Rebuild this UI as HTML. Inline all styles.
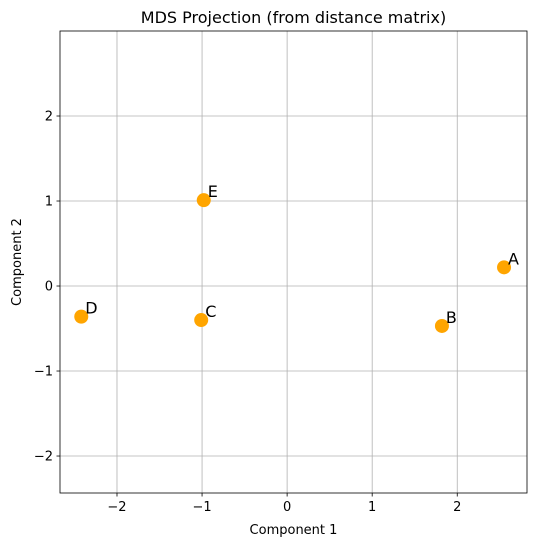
<!DOCTYPE html>
<html><head><meta charset="utf-8"><style>
body{margin:0;background:#fff;font-family:"Liberation Sans","DejaVu Sans",sans-serif}
svg text{font-family:"DejaVu Sans","Liberation Sans",sans-serif}
</style></head><body>
<svg id="chart" width="534" height="547" xmlns="http://www.w3.org/2000/svg"></svg>
<script>
const labels=["A","B","C","D","E"];
const xValues=[2.55,1.82,-1.01,-2.42,-0.98];
const yValues=[0.22,-0.47,-0.40,-0.36,1.01];
const xTicks=[-2,-1,0,1,2];
const yTicks=[-2,-1,0,1,2];
const L=60,R=527,T=31,B=493;
const xMin=-2.67,xMax=2.82,yMin=-2.435,yMax=3.0;
const sx=v=>L+(v-xMin)/(xMax-xMin)*(R-L);
const sy=v=>B-(v-yMin)/(yMax-yMin)*(B-T);
const svg=document.getElementById('chart');
const NS="http://www.w3.org/2000/svg";
function mk(t,a,txt){const e=document.createElementNS(NS,t);for(const k in a)e.setAttribute(k,a[k]);if(txt!=null)e.textContent=txt;svg.appendChild(e);return e;}
xTicks.forEach(v=>{const x=sx(v);
const g=mk('line',{x1:x,x2:x,y1:T,y2:B,stroke:'#b0b0b0','stroke-width':0.8});


const tk=mk('line',{x1:x,x2:x,y1:B,y2:B+3.5,stroke:'#000','stroke-width':0.8});


const t=mk('text',{x:x,y:B+18,'text-anchor':'middle','font-size':13},v<0?'\u2212'+(-v):String(v));

});
yTicks.forEach(v=>{const y=sy(v);
const g=mk('line',{x1:L,x2:R,y1:y,y2:y,stroke:'#b0b0b0','stroke-width':0.8});


const tk=mk('line',{x1:L-3.5,x2:L,y1:y,y2:y,stroke:'#000','stroke-width':0.8});


const t=mk('text',{x:L-7,y:y+4.5,'text-anchor':'end','font-size':13},v<0?'\u2212'+(-v):String(v));

});
const fr=mk('rect',{x:L,y:T,width:R-L,height:B-T,fill:'none',stroke:'#000','stroke-width':0.8});


labels.forEach((lb,i)=>{const x=sx(xValues[i]),y=sy(yValues[i]);
const c=mk('circle',{cx:x,cy:y,r:7,fill:'#ffa500'});


const t=mk('text',{x:x+4,y:y-3,'font-size':16},lb);

});
const ti=mk('text',{x:(L+R)/2,y:23,'text-anchor':'middle','font-size':16},'MDS Projection (from distance matrix)');


const xl=mk('text',{x:(L+R)/2,y:534,'text-anchor':'middle','font-size':13},'Component 1');


const yl=mk('text',{x:21,y:(T+B)/2,'text-anchor':'middle','font-size':13,transform:'rotate(-90 21 '+((T+B)/2)+')'},'Component 2');


</script>
</body></html>
